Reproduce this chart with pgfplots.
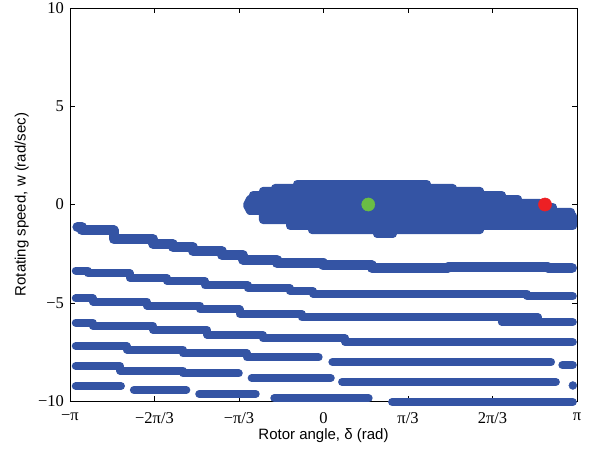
\documentclass[border=0pt]{standalone}
\usepackage{pgfplots}
\pgfplotsset{compat=1.18}
\usepackage{fontspec}
\setmainfont{Liberation Serif}
\newfontfamily\labelfont{Liberation Sans}
\definecolor{dotblue}{RGB}{52,84,164}
\definecolor{dotgreen}{RGB}{106,189,69}
\definecolor{dotred}{RGB}{237,32,36}

\begin{document}
\begin{tikzpicture}
\path[use as bounding box] (-70pt,-50pt) rectangle (525pt,401pt);
\begin{axis}[
	scale only axis,
	width=507pt, height=393pt,
	xmin=-3.14159, xmax=3.14159,
	ymin=-10, ymax=10,
	clip=false,
	xtick={-3.14159,-2.0944,-1.0472,0,1.0472,2.0944,3.14159},
	xticklabels={−π,−2π/3,−π/3,0,π/3,2π/3,π},
	ytick={-10,-5,0,5,10},
	yticklabels={−10,−5,0,5,10},
	tick label style={font=\fontsize{16.5}{19}\selectfont},
	xticklabel style={yshift=-8pt},
	yticklabel style={xshift=-2.5pt},
	major tick length=5pt,
	tick style={black, line width=0.5pt},
	axis line style={line width=0.6pt},
	xlabel={Rotor angle, δ (rad)},
	ylabel={Rotating speed, w (rad/sec)},
	label style={font=\labelfont\fontsize{15}{18}\selectfont},
	xlabel style={at={(axis description cs:0.5,-0.088)}, anchor=center},
	ylabel style={at={(axis description cs:-0.095,0.5)}, anchor=center},
	stripe/.style={dotblue, line width=8pt, line cap=round, line join=round, no markers},
	]
	% stripe 1
	\addplot[stripe, line width=10pt] coordinates {
		(-3.05,-1.15) (-2.99,-1.15) (-2.99,-1.32) (-2.60,-1.32)
		(-2.60,-1.76) (-2.11,-1.76) (-2.11,-2.01) (-1.87,-2.01)
		(-1.87,-2.16) (-1.62,-2.16) (-1.62,-2.37) (-1.26,-2.37)
		(-1.26,-2.57) (-1.00,-2.57) (-1.00,-2.80) (-0.58,-2.80)
		(-0.58,-2.98) (0.00,-2.98) (0.00,-3.10) (0.60,-3.10)
		(0.60,-3.23) (1.54,-3.23) (1.54,-3.18) (2.78,-3.18)
		(2.78,-3.23) (3.08,-3.23)
	};
	% stripe 2
	\addplot[stripe] coordinates {
		(-3.07,-3.36) (-2.92,-3.36) (-2.92,-3.51) (-2.40,-3.51)
		(-2.40,-3.74) (-1.94,-3.74) (-1.94,-3.89) (-1.47,-3.89)
		(-1.47,-4.12) (-0.94,-4.12) (-0.94,-4.25) (-0.42,-4.25)
		(-0.42,-4.40) (-0.13,-4.40) (-0.13,-4.53) (2.52,-4.53)
		(2.52,-4.66) (3.09,-4.66)
	};
	% stripe 3
	\addplot[stripe] coordinates {
		(-3.07,-4.78) (-2.86,-4.78) (-2.86,-4.94) (-2.19,-4.94)
		(-2.19,-5.14) (-1.53,-5.14) (-1.53,-5.34) (-1.04,-5.34)
		(-1.04,-5.57) (-0.27,-5.57) (-0.27,-5.75) (2.66,-5.75)
		(2.66,-5.98) (2.21,-5.98) (3.09,-5.98)
	};
	% stripe 4
	\addplot[stripe] coordinates {
		(-3.07,-6.01) (-2.86,-6.01) (-2.86,-6.18) (-2.11,-6.18)
		(-2.11,-6.39) (-1.44,-6.39) (-1.44,-6.64) (-0.75,-6.64)
		(-0.75,-6.81) (0.27,-6.81) (0.27,-7.00) (3.09,-7.00)
	};
	% stripe 5
	\addplot[stripe] coordinates {
		(-3.07,-7.20) (-2.44,-7.20) (-2.44,-7.38) (-1.74,-7.38)
		(-1.74,-7.58) (-0.95,-7.58) (-0.95,-7.78) (-0.06,-7.78)
	};
	\addplot[stripe] coordinates {(0.11,-8.02) (2.82,-8.02)};
	\addplot[stripe] coordinates {(2.96,-8.17) (3.09,-8.17)};
	% stripe 6
	\addplot[stripe] coordinates {
		(-3.07,-8.22) (-2.52,-8.22) (-2.52,-8.45) (-1.74,-8.45)
		(-1.74,-8.60) (-1.05,-8.60)
	};
	\addplot[stripe] coordinates {(-0.89,-8.83) (0.09,-8.83)};
	\addplot[stripe] coordinates {(0.23,-9.03) (2.88,-9.03)};
	\addplot[only marks, mark=*, mark size=4pt, dotblue] coordinates {(3.09,-9.21)};
	% stripe 7
	\addplot[stripe] coordinates {(-3.07,-9.24) (-2.51,-9.24)};
	\addplot[stripe] coordinates {(-2.35,-9.44) (-1.70,-9.44)};
	\addplot[stripe] coordinates {(-1.54,-9.64) (-0.84,-9.64)};
	\addplot[stripe] coordinates {(-0.61,-9.86) (0.56,-9.86)};
	\addplot[stripe] coordinates {(0.85,-10.05) (3.09,-10.05)};
	% basin around the equilibrium
	\addplot[dotblue, fill=dotblue, line width=8pt, line join=round, no markers] coordinates {
		(-0.948,-0.03)
		(-0.911,0.28) (-0.874,0.28) (-0.874,0.48) (-0.750,0.48)
		(-0.750,0.69) (-0.601,0.69) (-0.601,0.84) (-0.328,0.84)
		(-0.328,1.04) (1.283,1.04) (1.283,0.84) (1.605,0.84)
		(1.605,0.69) (1.940,0.69) (1.940,0.48) (2.212,0.48)
		(2.212,0.28) (2.411,0.28) (2.411,0.08) (2.683,0.08)
		(2.683,-0.13) (2.844,-0.13) (2.844,-0.38) (3.068,-0.38)
		(3.068,-0.59) (3.093,-0.59) (3.093,-1.09)
		(1.940,-1.09) (1.940,-1.30) (0.861,-1.30) (0.861,-1.50)
		(0.663,-1.50) (0.663,-1.30) (-0.143,-1.30) (-0.143,-1.09)
		(-0.415,-1.09) (-0.415,-0.79) (-0.750,-0.79) (-0.750,-0.33)
		(-0.911,-0.33)
	} -- cycle;
	% equilibrium points
	\addplot[only marks, mark=*, mark size=6.6pt, mark options={draw=dotgreen, fill=dotgreen}] coordinates {(0.555,0)};
	\addplot[only marks, mark=*, mark size=6.6pt, mark options={draw=dotred, fill=dotred}] coordinates {(2.745,0)};
\end{axis}
\end{tikzpicture}
\end{document}
